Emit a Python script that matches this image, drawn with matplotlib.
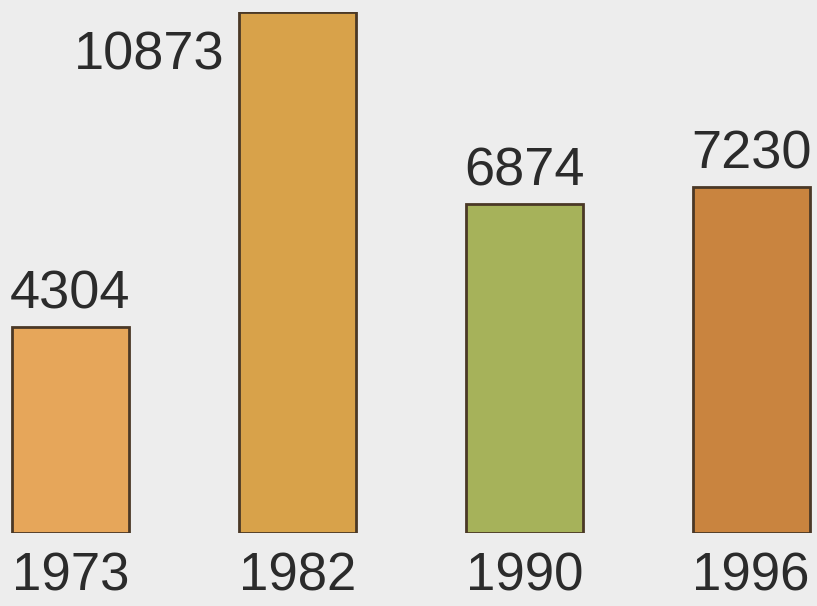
import matplotlib.pyplot as plt

# data
years = ["1973", "1982", "1990", "1996"]
values = [4304, 10873, 6874, 7230]
colors = ["#E6A65A", "#D8A24A", "#A6B25A", "#C9843F"]

plt.rcParams['font.family'] = ['Liberation Sans', 'DejaVu Sans']

fig = plt.figure(figsize=(8.17, 6.06), dpi=100)
fig.patch.set_facecolor("#EDEDED")
ax = fig.add_axes([0, 0.1205, 1, 0.8597])
ax.set_facecolor("#EDEDED")

x = list(range(len(years)))
w = 0.516
ax.bar(x, values, width=w, color=colors, edgecolor="#4A3826", linewidth=2.0)

ax.set_xlim(-0.31, 3.29)
ax.set_ylim(0, max(values))

# value labels: the tallest one sits beside its bar, the rest above
for i, v in enumerate(values):
    if v == max(values):
        ax.annotate(str(v), (i - w / 2, v), xytext=(-10, -13),
                    textcoords="offset points", ha="right", va="top",
                    fontsize=39, color="#2B2B2B")
    else:
        ax.annotate(str(v), (i, v), xytext=(0, 13),
                    textcoords="offset points", ha="center", va="baseline",
                    fontsize=39, color="#2B2B2B")

ax.set_xticks(x, years)
ax.tick_params(axis="x", length=0, pad=13, labelsize=38, labelcolor="#2B2B2B")
ax.set_yticks([])
for s in ax.spines.values():
    s.set_visible(False)

fig.savefig("out.png", dpi=100, facecolor=fig.get_facecolor())
